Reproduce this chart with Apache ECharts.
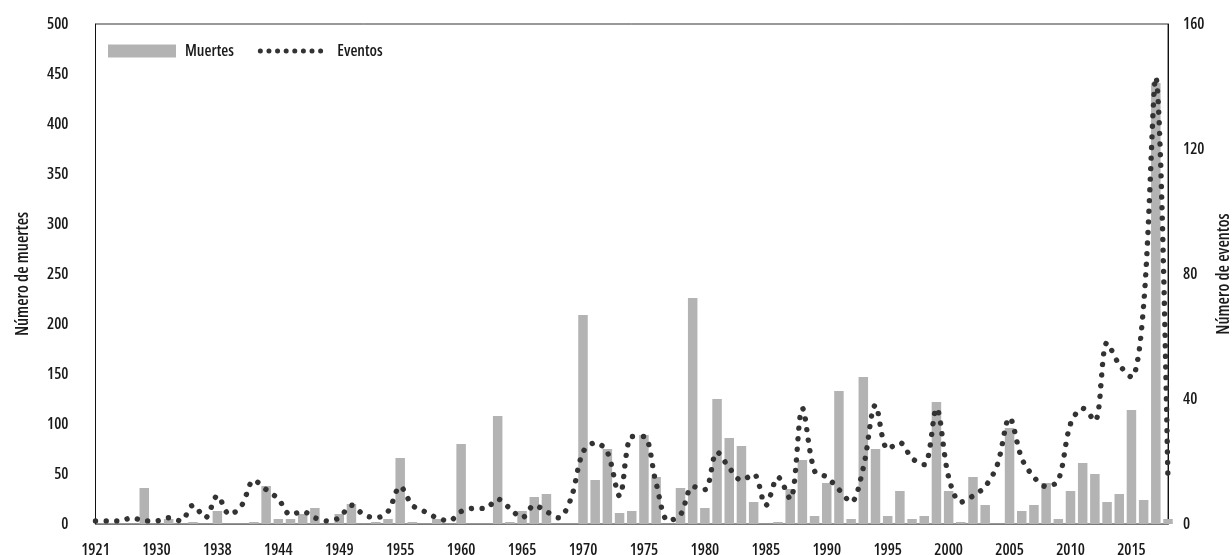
<!DOCTYPE html>
<html>
<head>
<meta charset="utf-8">
<script src="https://cdn.jsdelivr.net/npm/echarts@6/dist/echarts.min.js"></script>
<style>
  html, body { margin: 0; padding: 0; background: #fff; }
  #main { width: 1232px; height: 555px; }
</style>
</head>
<body>
<div id="main"></div>
<script>
// Open Sans is variable here, "condensed" gives the narrow look of the original
const FONT = '"Open Sans", "Noto Sans", sans-serif'
const STRETCH = '600 condensed'

// years shown on the category axis (the early years are not continuous)
const years = [
    '1921', '1922', '1924', '1926', '1928',
    '1930', '1932', '1933', '1935', '1936',
    '1938', '1939', '1940', '1942', '1943',
    '1944', '1945', '1946', '1947', '1948',
    '1949', '1950', '1951', '1953', '1954',
    '1955', '1956', '1957', '1958', '1959',
    '1960', '1961', '1962', '1963', '1964', '1965', '1966', '1967', '1968', '1969',
    '1970', '1971', '1972', '1973', '1974', '1975', '1976', '1977', '1978', '1979',
    '1980', '1981', '1982', '1983', '1984', '1985', '1986', '1987', '1988', '1989',
    '1990', '1991', '1992', '1993', '1994', '1995', '1996', '1997', '1998', '1999',
    '2000', '2001', '2002', '2003', '2004', '2005', '2006', '2007', '2008', '2009',
    '2010', '2011', '2012', '2013', '2014', '2015', '2016', '2017', '2018'
]

// Muertes (left axis)
const muertes = [
    0, 0, 0, 0, 36,
    0, 5, 0, 2, 0,
    13, 0, 0, 2, 38,
    5, 5, 10, 16, 0,
    10, 20, 0, 2, 5,
    66, 2, 0, 5, 0,
    80, 0, 0, 108, 2, 13, 27, 30, 0, 0,
    209, 44, 75, 11, 13, 89, 47, 0, 36, 226,
    16, 125, 86, 78, 22, 0, 2, 35, 64, 8,
    41, 133, 5, 147, 75, 8, 33, 5, 8, 122,
    33, 2, 47, 19, 0, 96, 13, 19, 41, 5,
    33, 61, 50, 22, 30, 114, 24, 441, 5
]

// Eventos (right axis)
const eventos = [
    1, 1, 1, 2, 1,
    1, 2, 1, 6, 2,
    9, 3, 6, 14, 11,
    8, 3, 4, 2, 1,
    2, 6, 3, 2, 4,
    12, 6, 4, 2, 1,
    4, 5, 5, 8, 5, 2, 6, 4, 2, 8,
    23, 26, 23, 9, 28, 28, 13, 1, 3, 12,
    11, 23, 18, 14, 16, 6, 15, 8, 37, 17,
    15, 11, 7, 18, 38, 24, 26, 21, 19, 37,
    15, 7, 9, 12, 19, 34, 21, 15, 12, 14,
    32, 37, 33, 58, 51, 47, 70, 143, 13
]

let myChart = echarts.init(document.getElementById('main'))

const textColor = '#1a1a1a'
const label = { fontFamily: FONT, fontWeight: STRETCH, fontSize: 16, color: textColor }
const title = Object.assign({}, label, { fontSize: 17 })

let option = {
    backgroundColor: '#fff',
    animation: false,
    grid: {
        left: 95.5,
        right: 64,
        top: 24,
        bottom: 31,
        containLabel: false,
        outerBoundsMode: 'none',
        show: true,
        borderColor: '#333',
        borderWidth: 1
    },
    legend: {
        left: 103,
        top: 38,
        itemWidth: 68,
        itemHeight: 13,
        itemGap: 24,
        textStyle: Object.assign({ padding: [0, 0, 0, 4] }, label),
        data: [
            { name: 'Muertes', icon: 'rect' },
            {
                name: 'Eventos',
                itemStyle: { opacity: 0 },
                lineStyle: { color: '#333', width: 5, type: [0.01, 8.6], cap: 'round' }
            }
        ]
    },
    xAxis: {
        type: 'category',
        data: years,
        boundaryGap: false,
        axisLine: { lineStyle: { color: '#7a7a7a', width: 1.2 } },
        axisTick: { show: false },
        axisLabel: Object.assign({ interval: 4, margin: 18 }, label),
        splitLine: { show: false }
    },
    yAxis: [
        {
            type: 'value',
            min: 0,
            max: 500,
            interval: 50,
            name: 'Número de muertes',
            nameLocation: 'middle',
            nameRotate: 90,
            nameGap: 64,
            nameTextStyle: title,
            axisLine: { show: true, lineStyle: { color: '#111', width: 1 } },
            axisTick: { show: false },
            axisLabel: Object.assign({ margin: 27, padding: [6, 0, 0, 0] }, label),
            splitLine: { show: false }
        },
        {
            type: 'value',
            min: 0,
            max: 160,
            interval: 40,
            position: 'right',
            name: 'Número de eventos',
            nameLocation: 'middle',
            nameRotate: 90,
            nameGap: 48,
            nameTextStyle: title,
            axisLine: { show: true, lineStyle: { color: '#111', width: 1 } },
            axisTick: { show: false },
            axisLabel: Object.assign({ margin: 15, padding: [6, 0, 0, 0] }, label),
            splitLine: { show: false }
        }
    ],
    series: [
        {
            name: 'Muertes',
            type: 'bar',
            data: muertes,
            barCategoryGap: '22%',
            clip: false,
            itemStyle: { color: '#b3b3b3' }
        },
        {
            name: 'Eventos',
            type: 'line',
            yAxisIndex: 1,
            data: eventos,
            smooth: 0.33,
            symbol: 'none',
            lineStyle: {
                color: '#333',
                width: 5.4,
                type: [0.01, 10.6],
                cap: 'round'
            },
            itemStyle: { color: '#333' },
            z: 3
        }
    ]
}

myChart.setOption(option)
</script>
</body>
</html>
